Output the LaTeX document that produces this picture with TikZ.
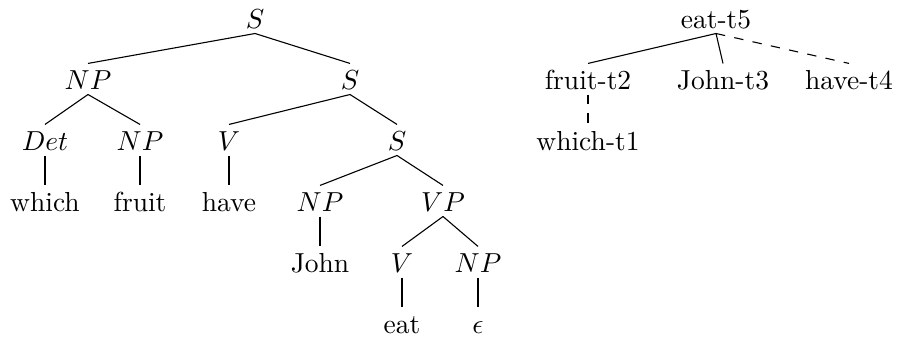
\documentclass[tikz,border=0pt]{standalone}
\begin{document}
\begin{tikzpicture}[x=0.3636pt,y=-0.3636pt,
  tn/.style={anchor=base, inner xsep=0pt, inner ysep=1.8pt, text height=7.3pt, text depth=0pt},
  edg/.style={line width=0.4pt},
  dedg/.style={line width=0.4pt, dash pattern=on 3.4pt off 3.4pt}]
\useasboundingbox (0,0) rectangle (898,338);
% left tree
\node[tn] (s0) at (255,28) {$S$};
\node[tn] (np1) at (88,89) {$NP$};
\node[tn] (s1) at (350,89) {$S$};
\node[tn] (det) at (45,150) {$Det$};
\node[tn] (np2) at (140,150) {$NP$};
\node[tn] (v1) at (229,150) {$V$};
\node[tn] (s2) at (397,150) {$S$};
\node[tn] (which) at (45,211) {which};
\node[tn] (fruit) at (140,211) {fruit};
\node[tn] (have) at (229,211) {have};
\node[tn] (np3) at (320,211) {$NP$};
\node[tn] (vp) at (443,211) {$VP$};
\node[tn] (john) at (320,272) {John};
\node[tn] (v2) at (402,272) {$V$};
\node[tn] (np4) at (478,272) {$NP$};
\node[tn] (eat) at (402,333) {eat};
\node[tn] (eps) at (478,333) {$\epsilon$};
\draw[edg] (s0.south) -- (np1.north);
\draw[edg] (s0.south) -- (s1.north);
\draw[edg] (np1.south) -- (det.north);
\draw[edg] (np1.south) -- (np2.north);
\draw[edg] (s1.south) -- (v1.north);
\draw[edg] (s1.south) -- (s2.north);
\draw[edg] (det.south) -- (which.north);
\draw[edg] (np2.south) -- (fruit.north);
\draw[edg] (v1.south) -- (have.north);
\draw[edg] (s2.south) -- (np3.north);
\draw[edg] (s2.south) -- (vp.north);
\draw[edg] (np3.south) -- (john.north);
\draw[edg] (vp.south) -- (v2.north);
\draw[edg] (vp.south) -- (np4.north);
\draw[edg] (v2.south) -- (eat.north);
\draw[edg] (np4.south) -- (eps.north);
% right tree
\node[tn] (t5) at (716,28) {eat-t5};
\node[tn] (t2) at (588,89) {fruit-t2};
\node[tn] (t3) at (723,89) {John-t3};
\node[tn] (t4) at (849,89) {have-t4};
\node[tn] (t1) at (588,150) {which-t1};
\draw[edg] (t5.south) -- (t2.north);
\draw[edg] (t5.south) -- (t3.north);
\draw[dedg] (t5.south) -- (t4.north);
\draw[dedg] (t2.south) -- (t1.north);
\end{tikzpicture}
\end{document}
